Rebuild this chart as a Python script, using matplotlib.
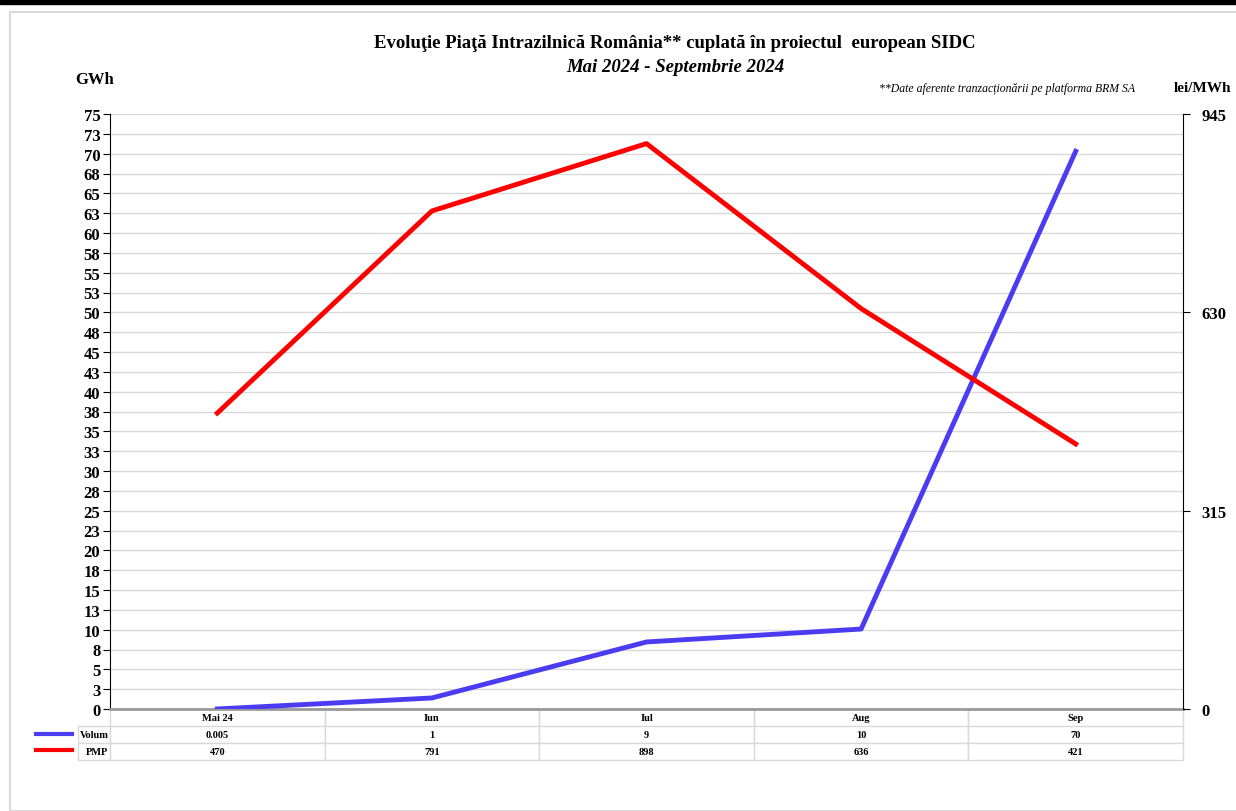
import numpy as np
import matplotlib.pyplot as plt
from matplotlib.lines import Line2D
from matplotlib.patches import Rectangle

plt.rcParams['font.family'] = ['Liberation Serif', 'DejaVu Serif']

luni = ['Mai 24', 'Iun', 'Iul', 'Aug', 'Sep']
volum = [0.005, 1.39, 8.45, 10.08, 70.3]
pmp = [470, 791, 898, 636, 421]
volum_txt = ['0.005', '1', '9', '10', '70']
pmp_txt = ['470', '791', '898', '636', '421']
stanga_ticks = np.arange(0, 75.1, 2.5)
dreapta_ticks = [0, 315, 630, 945]

W, H = 1236, 812
fig = plt.figure(figsize=(W / 100, H / 100), dpi=100)

# chenar si banda neagra sus
fig.patches.append(Rectangle((10 / W, 0), 1, (H - 13) / H, transform=fig.transFigure,
                             fill=False, edgecolor='#d9d9d9', lw=1.5))
fig.patches.append(Rectangle((0, (H - 5) / H), 1, 5 / H, transform=fig.transFigure,
                             color='black'))

ax = fig.add_axes([110 / W, (H - 710) / H, (1183 - 110) / W, (710 - 115) / H])
x = np.arange(len(luni))
ax.plot(x, volum, color='#4b3cf2', lw=3.5, zorder=3)
ax.set_xlim(-0.5, 4.5)
ax.set_ylim(0, 75)
ax.set_yticks(stanga_ticks)
ax.set_yticklabels([str(int(np.floor(v + 0.5))) for v in stanga_ticks],
                   fontsize=12, fontweight='bold')
ax.set_xticks([])
ax.grid(axis='y', color='#d9d9d9', lw=1)
ax.set_axisbelow(True)
for s in ['top', 'right']:
    ax.spines[s].set_visible(False)
ax.spines['bottom'].set_color('#999999')
ax.spines['bottom'].set_linewidth(2)
ax.tick_params(axis='y', length=5, pad=2)

ax2 = ax.twinx()
ax2.plot(x, pmp, color='#ff0000', lw=3.5, zorder=3)
ax2.set_ylim(0, 945)
ax2.set_yticks(dreapta_ticks)
ax2.set_yticklabels([str(v) for v in dreapta_ticks], fontsize=12, fontweight='bold')
for s in ['top', 'left', 'bottom']:
    ax2.spines[s].set_visible(False)
ax2.tick_params(axis='y', length=5, pad=8)

tab = ax.table(cellText=[volum_txt, pmp_txt], rowLabels=['Volum', 'PMP'], colLabels=luni,
               cellLoc='center', rowLoc='right', bbox=[0, -0.085, 1, 0.085])
tab.auto_set_font_size(False)
for (r, c), cell in tab.get_celld().items():
    cell.set_edgecolor('#d9d9d9')
    cell.get_text().set_fontsize(7.5)
    cell.get_text().set_fontweight('bold')
    if c == -1:
        cell.PAD = 0.05
    if r == 0:
        cell.visible_edges = 'LR'
for i, col in enumerate(['#4b3cf2', '#ff0000']):
    yy = (H - 735 - 16 * i) / H
    fig.add_artist(Line2D([36 / W, 72 / W], [yy, yy], color=col, lw=3))

fig.text(675 / W, (H - 44) / H, 'Evoluţie Piaţă Intrazilnică România** cuplată în proiectul  european SIDC',
         ha='center', va='center', fontsize=13.5, fontweight='bold')
fig.text(675 / W, (H - 67) / H, 'Mai 2024 - Septembrie 2024', ha='center', va='center',
         fontsize=13.5, fontweight='bold', style='italic')
fig.text(95 / W, (H - 80) / H, 'GWh', ha='center', va='center', fontsize=12, fontweight='bold')
fig.text(1174 / W, (H - 88) / H, 'lei/MWh', ha='left', va='center', fontsize=11, fontweight='bold')
fig.text(1135 / W, (H - 89) / H, '**Date aferente tranzacționării pe platforma BRM SA',
         ha='right', va='center', fontsize=8.5, style='italic')

fig.savefig('out.png', dpi=100)
